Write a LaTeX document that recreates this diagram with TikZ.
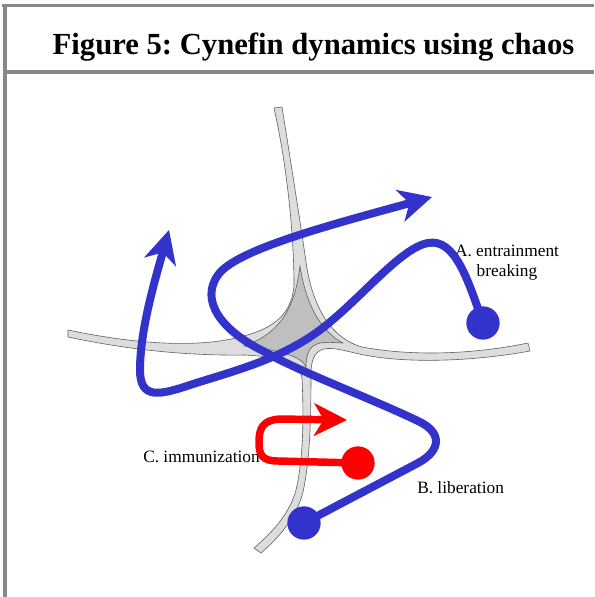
\documentclass[tikz,border=0pt]{standalone}
\usepackage{fontspec}
\setmainfont{Liberation Serif}
\usetikzlibrary{arrows.meta}
\definecolor{chaosblue}{RGB}{51,51,204}
\definecolor{roadlight}{RGB}{221,221,221}
\definecolor{roaddark}{RGB}{191,191,191}
\definecolor{roadedge}{RGB}{96,96,96}
\definecolor{framegray}{RGB}{136,136,136}
\frenchspacing
\begin{document}
\begin{tikzpicture}[x=0.75pt,y=-0.75pt,
  frameline/.style={draw=framegray,line width=2.3pt},
  roadouter/.style={fill=roadlight,draw=roadedge,line width=0.45pt},
  roadinner/.style={fill=roaddark,draw=roadedge,line width=0.45pt},
  bluepath/.style={draw=chaosblue,line width=6pt,line cap=round,line join=round},
  redpath/.style={draw=red,line width=5.6pt,line cap=round,line join=round},
  headed/.style={-{Stealth[length=25pt,width=25pt,inset=7.5pt,line width=0pt]}},
  bluedot/.style={circle,fill=chaosblue,minimum size=25pt,inner sep=0pt},
  reddot/.style={circle,fill=red,minimum size=25pt,inner sep=0pt},
  lbl/.style={font=\fontsize{13}{15}\selectfont,inner sep=0pt},
  titlefont/.style={font=\bfseries\fontsize{23}{27}\selectfont,inner sep=0pt}]
\useasboundingbox (0,0) rectangle (594,597);
\fill[white] (0,0) rectangle (594,597);
% frame
\draw[frameline] (2,5.5) -- (594,5.5);
\draw[frameline] (5,4) -- (5,597);
\draw[frameline] (5,72) -- (594,72);
\node[titlefont,anchor=base] (title) at (313.5,54) {Figure 5: Cynefin dynamics using chaos};
% road network
\path[roadouter] (274,108) -- (282,107)
 .. controls (292,170) and (300,220) .. (306,262)
 .. controls (312,305) and (330,338) .. (362,347)
 .. controls (410,356) and (470,355) .. (528,343)
 -- (530,351)
 .. controls (470,362) and (400,364) .. (355,353)
 .. controls (330,347) and (312,342) .. (311,372)
 .. controls (311,420) and (310,460) .. (303,492)
 .. controls (297,515) and (282,535) .. (261,553)
 -- (254,548)
 .. controls (275,530) and (290,512) .. (296,490)
 .. controls (303,460) and (304,420) .. (302,378)
 .. controls (300,362) and (280,357) .. (245,355)
 .. controls (180,356) and (120,348) .. (68,337)
 -- (68,330)
 .. controls (120,341) and (190,350) .. (240,337)
 .. controls (268,330) and (292,318) .. (294,285)
 .. controls (294,240) and (288,170) .. (274,108)
 -- cycle;
\path[roadinner] (300,266)
 .. controls (306,306) and (322,332) .. (343,343)
 .. controls (322,342) and (306,339) .. (306,367)
 .. controls (302,356) and (278,350) .. (244,346)
 .. controls (272,336) and (294,318) .. (300,266) -- cycle;
% labels
\node[lbl,anchor=base] (labA1) at (507,256) {A. entrainment};
\node[lbl,anchor=base] (labA2) at (507,276) {breaking};
\node[lbl,anchor=base west] (labB) at (417,493) {B. liberation};
\node[lbl,anchor=base west] (labC) at (143,462) {C. immunization};
% dots and arrow tips
\node[bluedot] (dotA) at (483,323) {};
\node[bluedot] (dotB) at (304,523) {};
\node[reddot] (dotC) at (358,463) {};
\coordinate (tipA) at (169,230);
\coordinate (tipB) at (432,197);
\coordinate (tipC) at (347,420);
% A: entrainment breaking
\draw[bluepath,headed] (dotA.center)
 .. controls (468,280) and (455,238) .. (428,243)
 .. controls (400,248) and (360,300) .. (320,330)
 .. controls (280,360) and (230,372) .. (190,385)
 .. controls (160,395) and (140,400) .. (140,370)
 .. controls (140,330) and (155,280) .. (tipA);
% B: liberation
\draw[bluepath,headed] (dotB.center) -- (418,463)
 .. controls (442,450) and (442,432) .. (418,421)
 .. controls (370,398) and (300,372) .. (265,352)
 .. controls (220,330) and (200,300) .. (218,275)
 .. controls (235,250) and (330,225) .. (tipB);
% C: immunization
\draw[redpath,headed] (dotC.center) -- (278,461)
 .. controls (262,461) and (259,455) .. (259,442)
 .. controls (259,428) and (263,420) .. (280,419)
 -- (tipC);
\end{tikzpicture}
\end{document}
